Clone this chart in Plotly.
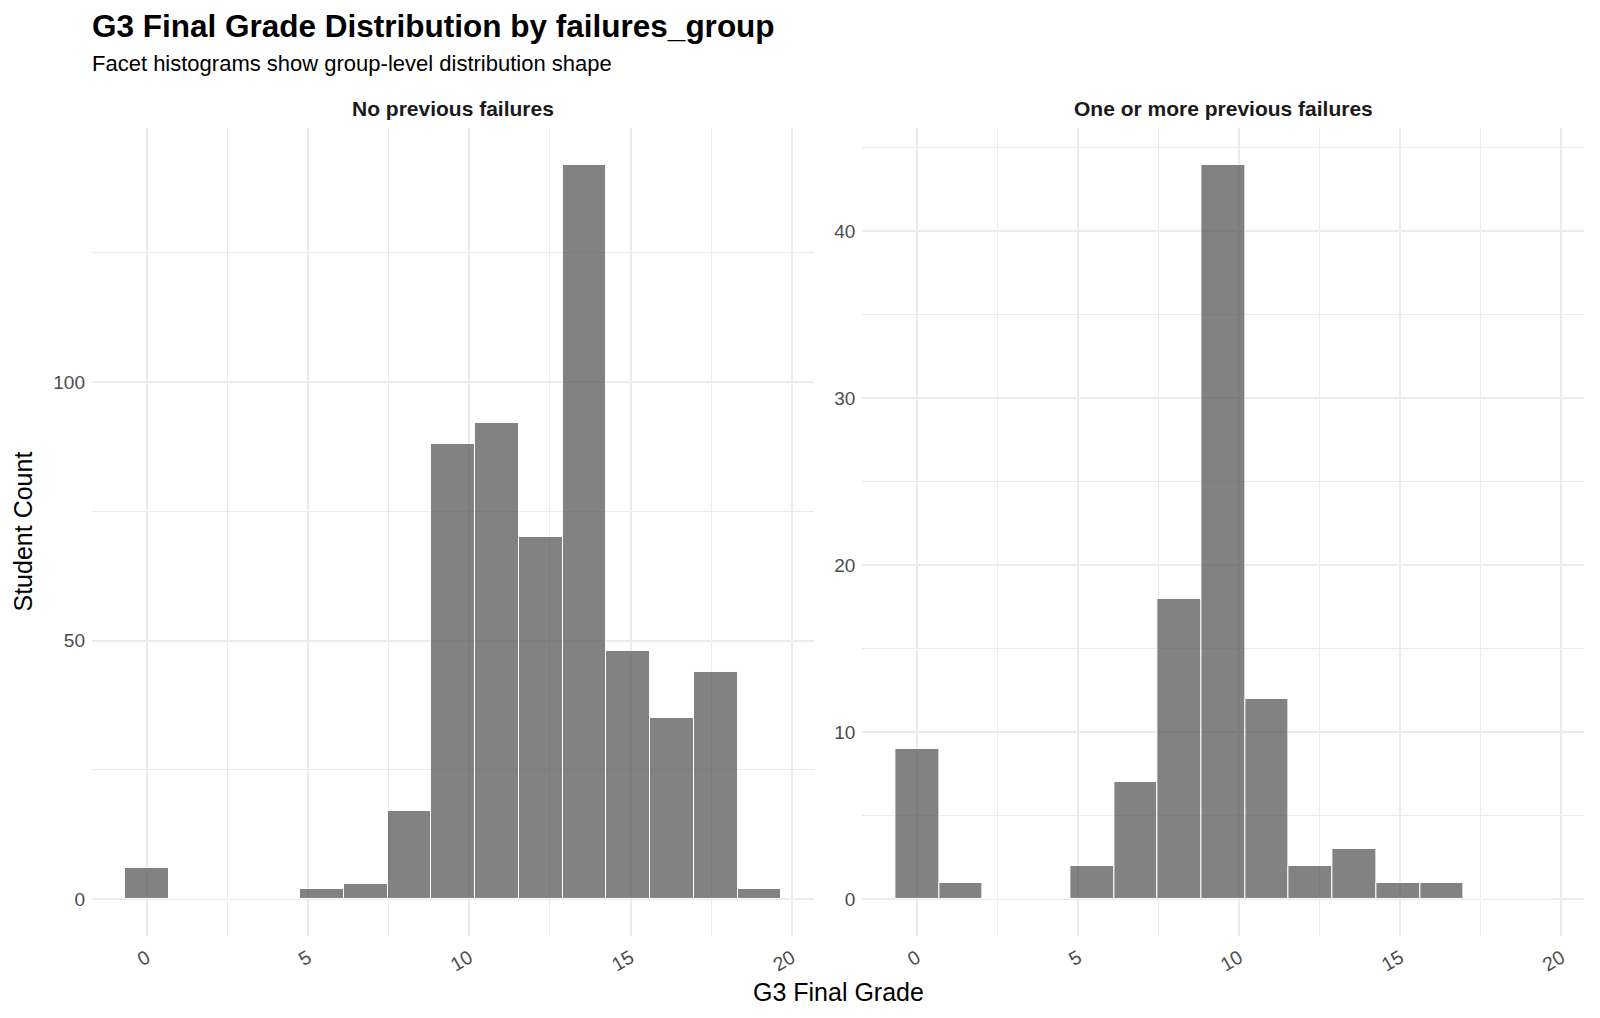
import plotly.graph_objects as go

# Histogram bins (ggplot bins=15 over grade range 0..19)
bin_width = 19 / 14
bin_index = list(range(15))
counts_no_fail = [6, 0, 0, 0, 2, 3, 17, 88, 92, 70, 142, 48, 35, 44, 2]
counts_fail = [9, 1, 0, 0, 2, 7, 18, 44, 12, 2, 3, 1, 1, 0, 0]
panel_titles = ["No previous failures", "One or more previous failures"]
x_ticks = [0, 5, 10, 15, 20]

bin_centers = [i * bin_width for i in bin_index]

FONT = "Liberation Sans, Arial, Helvetica, sans-serif"
BAR_FILL = "rgba(77,77,77,0.7)"
GRID = "#ebebeb"

fig = go.Figure()
for counts, xa, ya in [(counts_no_fail, "x", "y"), (counts_fail, "x2", "y2")]:
    fig.add_trace(go.Bar(
        x=bin_centers, y=counts, width=bin_width,
        marker=dict(color=BAR_FILL, line=dict(color="white", width=1)),
        xaxis=xa, yaxis=ya, showlegend=False, hoverinfo="x+y",
    ))

ydom = [0.0806, 0.8743]
xaxis_common = dict(
    range=[-1.7, 20.7], tickvals=x_ticks, tickangle=-30,
    showgrid=True, gridcolor=GRID, gridwidth=2, zeroline=False,
    showline=False, ticks="", tickfont=dict(size=19.5, color="#4d4d4d", family=FONT),
    minor=dict(dtick=2.5, tick0=0, showgrid=True, gridcolor=GRID, gridwidth=1),
    ticklabelstandoff=6,
)
yaxis_common = dict(
    showgrid=True, gridcolor=GRID, gridwidth=2, zeroline=False,
    showline=False, ticks="", tickfont=dict(size=19, color="#4d4d4d", family=FONT),
    ticklabelstandoff=6,
)

fig.update_layout(
    width=1600, height=1018,
    margin=dict(l=0, r=0, t=0, b=0),
    paper_bgcolor="white", plot_bgcolor="white",
    font=dict(family=FONT, color="black"),
    bargap=0,
    xaxis=dict(**xaxis_common, anchor="y", domain=[0.0575, 0.509]),
    xaxis2=dict(**xaxis_common, anchor="y2", domain=[0.539, 0.990]),
    yaxis=dict(**yaxis_common, domain=ydom, anchor="x", range=[-7.1, 149.1],
               tickvals=[0, 50, 100],
               minor=dict(tickvals=[25, 75, 125], showgrid=True, gridcolor=GRID, gridwidth=1)),
    yaxis2=dict(**yaxis_common, domain=ydom, anchor="x2", range=[-2.2, 46.2],
                tickvals=[0, 10, 20, 30, 40],
                minor=dict(tickvals=[5, 15, 25, 35, 45], showgrid=True, gridcolor=GRID, gridwidth=1)),
)

annotations = [
    dict(text="<b>G3 Final Grade Distribution by failures_group</b>", x=90 / 1600, y=1 - 26 / 1018,
         xanchor="left", yanchor="middle", font=dict(size=31.5, color="black", family=FONT)),
    dict(text="Facet histograms show group-level distribution shape", x=90 / 1600, y=1 - 63 / 1018,
         xanchor="left", yanchor="middle", font=dict(size=22, color="black", family=FONT)),
    dict(text="<b>" + panel_titles[0] + "</b>", x=(0.0575 + 0.509) / 2, y=1 - 108 / 1018,
         xanchor="center", yanchor="middle", font=dict(size=21, color="#1a1a1a", family=FONT)),
    dict(text="<b>" + panel_titles[1] + "</b>", x=(0.539 + 0.990) / 2, y=1 - 108 / 1018,
         xanchor="center", yanchor="middle", font=dict(size=21, color="#1a1a1a", family=FONT)),
    dict(text="G3 Final Grade", x=838 / 1600, y=1 - 992 / 1018,
         xanchor="center", yanchor="middle", font=dict(size=25, color="black", family=FONT)),
    dict(text="Student Count", x=22.5 / 1600, y=1 - 532 / 1018, textangle=-90,
         xanchor="center", yanchor="middle", font=dict(size=25, color="black", family=FONT)),
]
for a in annotations:
    a.update(xref="paper", yref="paper", showarrow=False)
fig.update_layout(annotations=annotations)

fig.write_html("out.html")
